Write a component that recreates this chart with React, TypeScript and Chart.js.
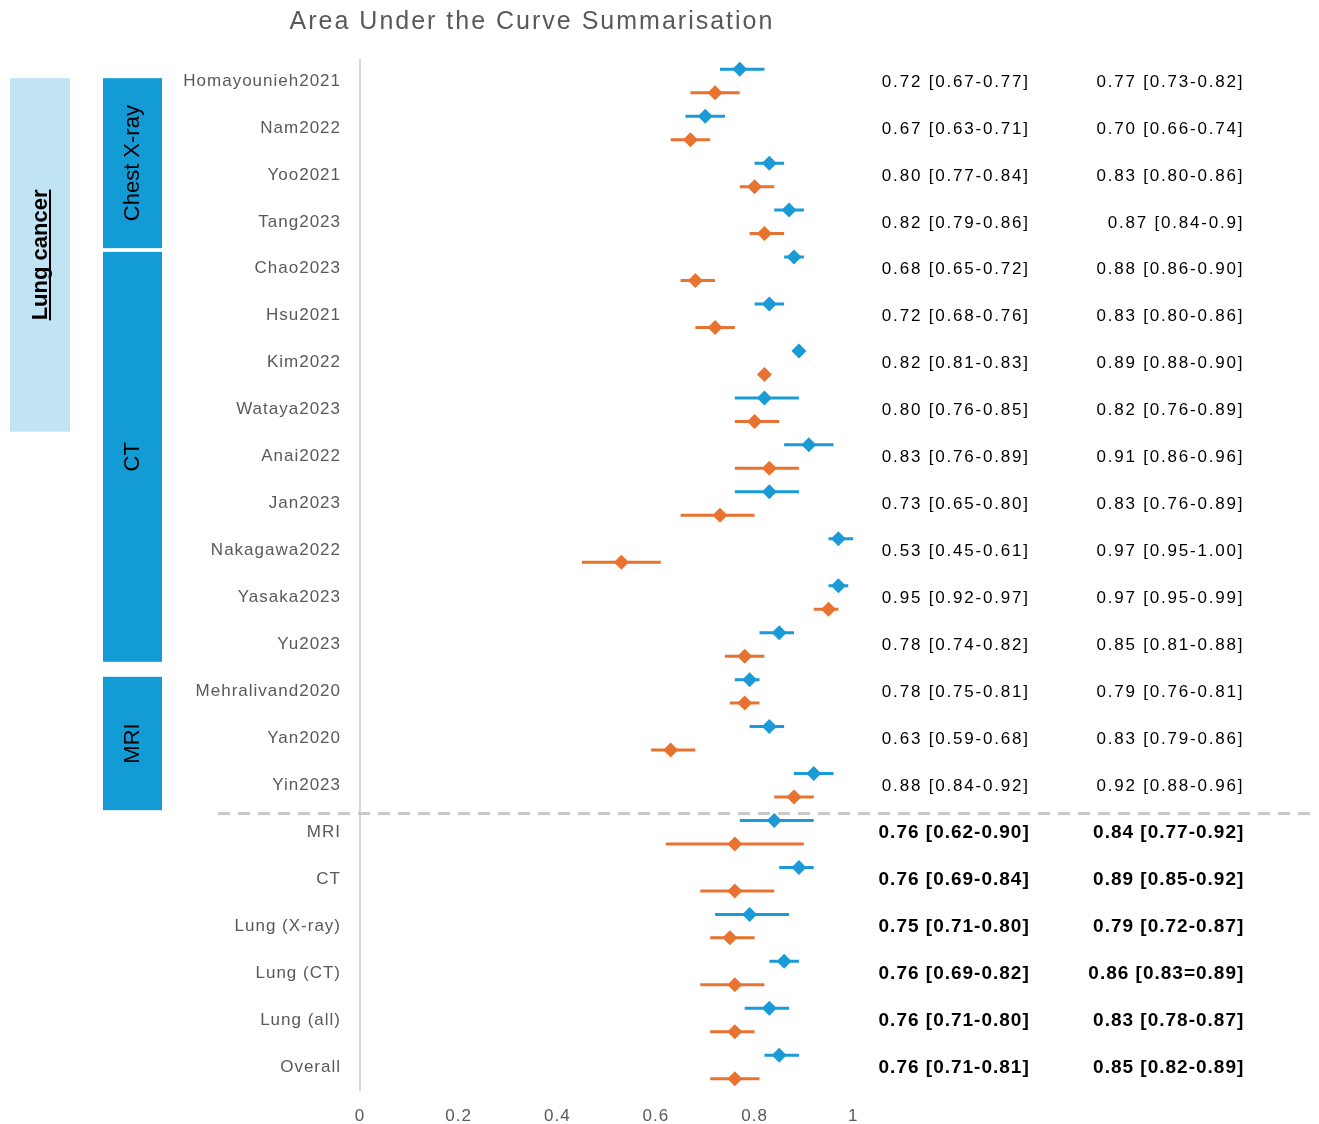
import { useEffect, useRef } from 'react';
import { Chart, registerables } from 'chart.js';

Chart.register(...registerables);

// Row labels, top to bottom
const rowLabels = [
  'Homayounieh2021', 'Nam2022', 'Yoo2021', 'Tang2023', 'Chao2023', 'Hsu2021',
  'Kim2022', 'Wataya2023', 'Anai2022', 'Jan2023', 'Nakagawa2022', 'Yasaka2023',
  'Yu2023', 'Mehralivand2020', 'Yan2020', 'Yin2023',
  'MRI', 'CT', 'Lung (X-ray)', 'Lung (CT)', 'Lung (all)', 'Overall',
];
// first pooled (summary) row
const pooledFrom = 16;

// Orange series: AUC with 95% CI
const withoutAiAuc = [0.72, 0.67, 0.80, 0.82, 0.68, 0.72, 0.82, 0.80, 0.83, 0.73, 0.53, 0.95, 0.78, 0.78, 0.63, 0.88, 0.76, 0.76, 0.75, 0.76, 0.76, 0.76];
const withoutAiLow = [0.67, 0.63, 0.77, 0.79, 0.65, 0.68, 0.81, 0.76, 0.76, 0.65, 0.45, 0.92, 0.74, 0.75, 0.59, 0.84, 0.62, 0.69, 0.71, 0.69, 0.71, 0.71];
const withoutAiHigh = [0.77, 0.71, 0.84, 0.86, 0.72, 0.76, 0.83, 0.85, 0.89, 0.80, 0.61, 0.97, 0.82, 0.81, 0.68, 0.92, 0.90, 0.84, 0.80, 0.82, 0.80, 0.81];

// Blue series: AUC with 95% CI
const withAiAuc = [0.77, 0.70, 0.83, 0.87, 0.88, 0.83, 0.89, 0.82, 0.91, 0.83, 0.97, 0.97, 0.85, 0.79, 0.83, 0.92, 0.84, 0.89, 0.79, 0.86, 0.83, 0.85];
const withAiLow = [0.73, 0.66, 0.80, 0.84, 0.86, 0.80, 0.88, 0.76, 0.86, 0.76, 0.95, 0.95, 0.81, 0.76, 0.79, 0.88, 0.77, 0.85, 0.72, 0.83, 0.78, 0.82];
const withAiHigh = [0.82, 0.74, 0.86, 0.90, 0.90, 0.86, 0.90, 0.89, 0.96, 0.89, 1.00, 0.99, 0.88, 0.81, 0.86, 0.96, 0.92, 0.92, 0.87, 0.89, 0.87, 0.89];

// Printed summaries for the two value columns
const withoutAiText = [
  '0.72 [0.67-0.77]', '0.67 [0.63-0.71]', '0.80 [0.77-0.84]', '0.82 [0.79-0.86]',
  '0.68 [0.65-0.72]', '0.72 [0.68-0.76]', '0.82 [0.81-0.83]', '0.80 [0.76-0.85]',
  '0.83 [0.76-0.89]', '0.73 [0.65-0.80]', '0.53 [0.45-0.61]', '0.95 [0.92-0.97]',
  '0.78 [0.74-0.82]', '0.78 [0.75-0.81]', '0.63 [0.59-0.68]', '0.88 [0.84-0.92]',
  '0.76 [0.62-0.90]', '0.76 [0.69-0.84]', '0.75 [0.71-0.80]', '0.76 [0.69-0.82]',
  '0.76 [0.71-0.80]', '0.76 [0.71-0.81]',
];
const withAiText = [
  '0.77 [0.73-0.82]', '0.70 [0.66-0.74]', '0.83 [0.80-0.86]', '0.87 [0.84-0.9]',
  '0.88 [0.86-0.90]', '0.83 [0.80-0.86]', '0.89 [0.88-0.90]', '0.82 [0.76-0.89]',
  '0.91 [0.86-0.96]', '0.83 [0.76-0.89]', '0.97 [0.95-1.00]', '0.97 [0.95-0.99]',
  '0.85 [0.81-0.88]', '0.79 [0.76-0.81]', '0.83 [0.79-0.86]', '0.92 [0.88-0.96]',
  '0.84 [0.77-0.92]', '0.89 [0.85-0.92]', '0.79 [0.72-0.87]', '0.86 [0.83=0.89]',
  '0.83 [0.78-0.87]', '0.85 [0.82-0.89]',
];

const xTickValues = [0, 0.2, 0.4, 0.6, 0.8, 1];

// Modality bands on the left, in row units
const modalityBands = [
  { label: 'Chest X-ray', from: -0.06, to: 3.56 },
  { label: 'CT', from: 3.64, to: 12.37 },
  { label: 'MRI', from: 12.69, to: 15.53 },
];
const diseaseBand = { label: 'Lung cancer', from: -0.06, to: 7.47 };

const BLUE = '#1A9BD7';
const ORANGE = '#E8722F';
const BAND_DARK = '#139BD5';
const BAND_LIGHT = '#C1E4F5';
const GREY_TEXT = '#595959';
const FONT = '"Liberation Sans", Arial, sans-serif';

const ROW_SHIFT = 0.25;

function whiskerData(low: number[], high: number[], shift: number) {
  const out: any[] = [];
  low.forEach((lo, i) => {
    out.push({ x: lo, y: i + shift }, { x: high[i], y: i + shift }, { x: null, y: null });
  });
  return out;
}

function pointData(values: number[], shift: number) {
  return values.map((v, i) => ({ x: v, y: i + shift }));
}

const overlayPlugin = {
  id: 'forestOverlay',
  beforeDraw(chart: any) {
    chart.ctx.letterSpacing = '1px';
  },
  beforeDatasetsDraw(chart: any) {
    const { ctx, chartArea, scales } = chart;
    // separator between single studies and pooled estimates
    const y = scales.y.getPixelForValue(pooledFrom - 0.4);
    ctx.save();
    ctx.strokeStyle = '#C9C9C9';
    ctx.lineWidth = 3;
    ctx.setLineDash([12, 8]);
    ctx.beginPath();
    ctx.moveTo(218, y);
    ctx.lineTo(chartArea.right, y);
    ctx.stroke();
    ctx.restore();
  },
  afterDraw(chart: any) {
    const { ctx, scales } = chart;
    const ys = scales.y;
    const xs = scales.x;

    ctx.save();
    // title
    ctx.letterSpacing = '2px';
    ctx.fillStyle = GREY_TEXT;
    ctx.font = `25px ${FONT}`;
    ctx.textAlign = 'center';
    ctx.textBaseline = 'middle';
    ctx.fillText('Area Under the Curve Summarisation', 532, 22);

    // disease band
    const dTop = ys.getPixelForValue(diseaseBand.from);
    const dBot = ys.getPixelForValue(diseaseBand.to);
    ctx.fillStyle = BAND_LIGHT;
    ctx.fillRect(10, dTop, 60, dBot - dTop);
    ctx.save();
    ctx.translate(40, (dTop + dBot) / 2);
    ctx.rotate(-Math.PI / 2);
    ctx.letterSpacing = '0px';
    ctx.font = `bold 22px ${FONT}`;
    ctx.fillStyle = '#000';
    ctx.textAlign = 'center';
    ctx.textBaseline = 'alphabetic';
    ctx.fillText(diseaseBand.label, 0, 7);
    const w = ctx.measureText(diseaseBand.label).width;
    ctx.fillRect(-w / 2, 9, w, 2);
    ctx.restore();

    // modality bands
    modalityBands.forEach((b) => {
      const top = ys.getPixelForValue(b.from);
      const bot = ys.getPixelForValue(b.to);
      ctx.fillStyle = BAND_DARK;
      ctx.fillRect(103, top, 59, bot - top);
      ctx.save();
      ctx.translate(133, (top + bot) / 2);
      ctx.rotate(-Math.PI / 2);
      ctx.letterSpacing = '0px';
      ctx.font = `22px ${FONT}`;
      ctx.fillStyle = '#000';
      ctx.textAlign = 'center';
      ctx.textBaseline = 'middle';
      ctx.fillText(b.label, 0, 0);
      ctx.restore();
    });

    // value columns
    const col1 = xs.getPixelForValue(1.358);
    const col2 = xs.getPixelForValue(1.793);
    ctx.fillStyle = '#000';
    ctx.textAlign = 'right';
    ctx.textBaseline = 'middle';
    rowLabels.forEach((_, i) => {
      const y = ys.getPixelForValue(i) + 1;
      const pooled = i >= pooledFrom;
      ctx.font = pooled ? `bold 19px ${FONT}` : `17px ${FONT}`;
      ctx.letterSpacing = pooled ? '1px' : '1.8px';
      ctx.fillText(withoutAiText[i], col1, y);
      ctx.fillText(withAiText[i], col2, y);
    });
    ctx.restore();
  },
};

export default function App() {
  const canvasRef = useRef<HTMLCanvasElement>(null);

  useEffect(() => {
    const canvas = canvasRef.current;
    if (!canvas) return;
    const chart = new Chart(canvas, {
      type: 'scatter',
      data: {
        datasets: [
          {
            label: 'With AI',
            data: pointData(withAiAuc, -ROW_SHIFT),
            pointStyle: 'rectRot',
            pointRadius: 7.5,
            backgroundColor: BLUE,
            borderWidth: 0,
            order: 0,
          },
          {
            label: 'Without AI',
            data: pointData(withoutAiAuc, ROW_SHIFT),
            pointStyle: 'rectRot',
            pointRadius: 7.5,
            backgroundColor: ORANGE,
            borderWidth: 0,
            order: 0,
          },
          {
            label: 'With AI CI',
            data: whiskerData(withAiLow, withAiHigh, -ROW_SHIFT),
            showLine: true,
            spanGaps: false,
            borderColor: BLUE,
            borderWidth: 3,
            pointRadius: 0,
            order: 1,
          },
          {
            label: 'Without AI CI',
            data: whiskerData(withoutAiLow, withoutAiHigh, ROW_SHIFT),
            showLine: true,
            spanGaps: false,
            borderColor: ORANGE,
            borderWidth: 3,
            pointRadius: 0,
            order: 1,
          },
        ],
      },
      options: {
        responsive: false,
        animation: false,
        layout: { padding: { top: 60, right: 4, bottom: 0, left: 0 } },
        plugins: {
          legend: { display: false },
          tooltip: { enabled: false },
          title: { display: false },
        },
        scales: {
          x: {
            type: 'linear',
            min: 0,
            max: 1.9293,
            grid: { display: false, drawTicks: false },
            border: { display: false },
            afterBuildTicks: (scale: any) => {
              scale.ticks = xTickValues.map((v) => ({ value: v }));
            },
            afterFit: (scale: any) => {
              scale.height = 34;
            },
            ticks: {
              autoSkip: false,
              maxRotation: 0,
              padding: 16,
              color: GREY_TEXT,
              font: { family: FONT, size: 17 },
              callback: (v: any) => String(v),
            },
          },
          y: {
            type: 'linear',
            reverse: true,
            min: -0.447,
            max: 21.49,
            grid: { display: false, drawTicks: false },
            border: { display: true, color: '#D9D9D9', width: 2 },
            afterBuildTicks: (scale: any) => {
              scale.ticks = rowLabels.map((_, i) => ({ value: i }));
            },
            afterFit: (scale: any) => {
              scale.width = 360;
            },
            ticks: {
              autoSkip: false,
              padding: 19,
              color: GREY_TEXT,
              font: { family: FONT, size: 17 },
              callback: (v: any) => rowLabels[v] ?? '',
            },
          },
        },
      },
      plugins: [overlayPlugin],
    });
    return () => chart.destroy();
  }, []);

  return (
    <div style={{ position: 'fixed', left: 0, top: 0, width: 1319, height: 1124, background: '#fff' }}>
      <canvas ref={canvasRef} width={1319} height={1124} />
    </div>
  );
}
